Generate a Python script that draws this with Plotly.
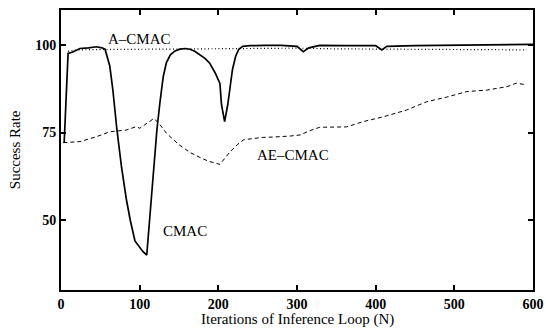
import plotly.graph_objects as go

# ---- data ----
cmac_n = [4, 9, 15, 24, 35, 45, 52, 56, 62, 66, 71, 77, 83, 88, 94, 100, 104, 109,
          113, 116, 119.5, 122, 126, 130, 134, 139, 145, 151, 158, 164, 170, 176, 183,
          189, 196, 202, 204, 208, 212, 215, 218, 222, 226, 231, 240, 260, 280, 300,
          308, 315, 329, 360, 400, 408, 414, 450, 500, 550, 600]
cmac_v = [72, 97.6, 98, 99, 99.2, 99.5, 99.2, 98.8, 94, 87, 76, 65, 56, 50, 44, 42,
          41, 40, 51, 60, 70, 76, 84, 91, 95, 97.2, 98.3, 98.8, 99, 98.8, 98.2, 97.3, 96.2,
          94.8, 92, 89, 83, 78.1, 83, 88, 93, 96.8, 98.8, 99.6, 99.8, 99.9, 99.9, 99.6,
          98.1, 99.2, 99.9, 99.8, 99.8, 98.6, 99.6, 99.8, 99.9, 100.1, 100.2]

acmac_n = [9, 20, 50, 100, 150, 200, 250, 300, 350, 400, 450, 500, 550, 592]
acmac_v = [98.2, 98.6, 98.7, 98.8, 98.8, 98.9, 99.2, 99.1, 98.9, 98.8, 98.7, 98.7, 98.6, 98.6]

aecmac_n = [3, 10, 24, 45, 62, 83, 96, 100, 108, 118, 125, 134, 150, 164, 180, 189, 202,
            208, 215, 224, 232, 245, 257, 270, 282, 292, 304, 316, 329, 345, 363, 384,
            410, 439, 465, 490, 516, 541, 567, 579, 592]
aecmac_v = [72.1, 72.2, 72.4, 73.8, 75.2, 75.7, 76.7, 76.2, 77.5, 79, 77.5, 74.8, 71.5,
            69.3, 67.5, 66.7, 65.9, 67.5, 69.5, 71.5, 72.9, 73.3, 73.6, 73.7, 73.8, 74.0,
            74.3, 75.5, 76.5, 76.6, 76.6, 78.1, 79.5, 81.4, 83.8, 85.1, 86.7, 87.1, 88.1,
            89.1, 88.6]

x_ticks = [0, 100, 200, 300, 400, 500, 600]
y_ticks = [50, 75, 100]

labels = [("A–CMAC", 100, 101.7), ("AE–CMAC", 295, 68.6), ("CMAC", 157, 46.9)]
x_title = "Iterations of Inference Loop (N)"
y_title = "Success Rate"

FONT = "Liberation Serif, Times New Roman, serif"

fig = go.Figure()
fig.add_trace(go.Scatter(x=aecmac_n, y=aecmac_v, mode="lines",
                         line=dict(color="black", width=1, dash="4px,3px")))
fig.add_trace(go.Scatter(x=acmac_n, y=acmac_v, mode="lines",
                         line=dict(color="black", width=1.2, dash="1px,2.5px")))
fig.add_trace(go.Scatter(x=cmac_n, y=cmac_v, mode="lines",
                         line=dict(color="black", width=1.7)))

for txt, x, y in labels:
    fig.add_annotation(x=x, y=y, text=txt, showarrow=False,
                       font=dict(family=FONT, size=15, color="black"))

# axis titles placed as paper annotations
fig.add_annotation(xref="paper", yref="paper", x=0.5, y=-0.104, text=x_title,
                   showarrow=False, xanchor="center", yanchor="middle",
                   font=dict(family=FONT, size=15, color="black"))
fig.add_annotation(xref="paper", yref="paper", x=-0.097, y=0.5, text=y_title,
                   showarrow=False, xanchor="center", yanchor="middle", textangle=-90,
                   font=dict(family=FONT, size=15, color="black"))

fig.update_layout(
    width=546, height=328,
    margin=dict(l=61, r=13, t=10, b=38),
    paper_bgcolor="white", plot_bgcolor="white",
    showlegend=False,
    font=dict(family=FONT, color="black"),
)
fig.update_xaxes(range=[0, 600], tickvals=x_ticks,
                 ticktext=["<b>%d</b>" % v for v in x_ticks],
                 ticks="inside", ticklen=5, automargin=False,
                 tickwidth=1.5, tickcolor="black", showline=True, linecolor="black",
                 linewidth=1.8, mirror="ticks", showgrid=False, zeroline=False,
                 tickfont=dict(family=FONT, size=14, color="black"))
fig.update_yaxes(range=[30, 110], tickvals=y_ticks,
                 ticktext=["<b>%d</b>" % v for v in y_ticks],
                 ticks="inside", ticklen=5, automargin=False,
                 tickwidth=1.5, tickcolor="black", showline=True, linecolor="black",
                 linewidth=1.8, mirror="ticks", showgrid=False, zeroline=False,
                 tickfont=dict(family=FONT, size=14, color="black"))

fig.write_html("out.html")
